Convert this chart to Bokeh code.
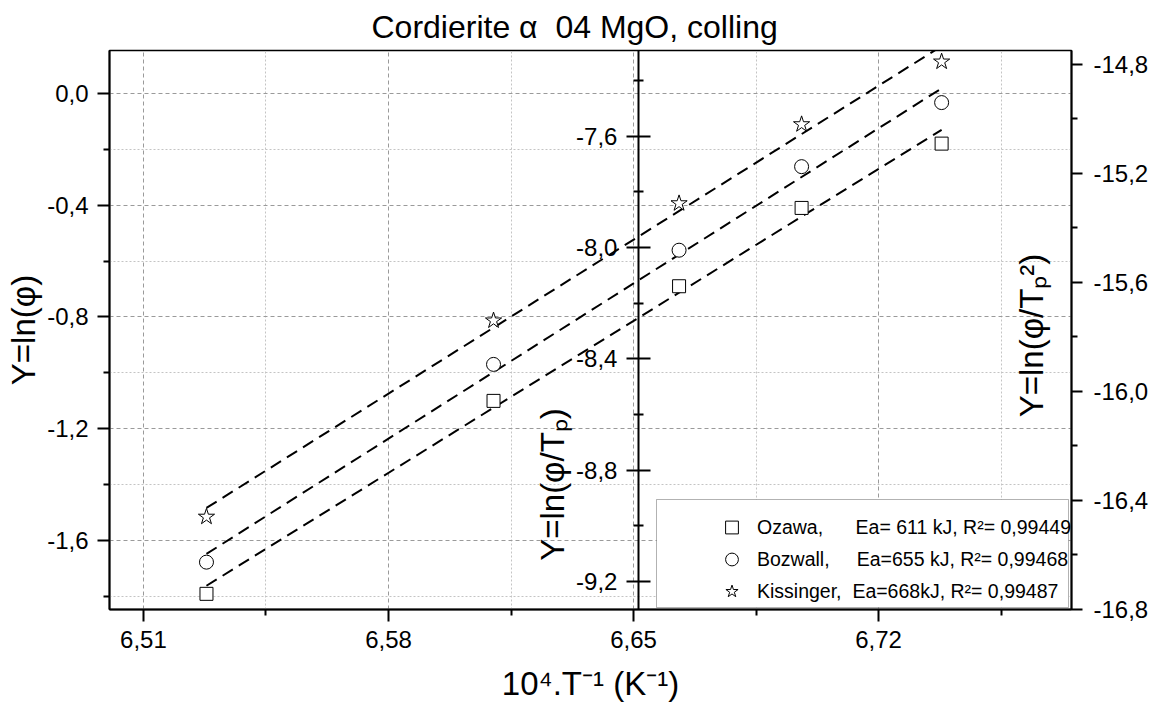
import numpy as np
from bokeh.plotting import figure
from bokeh.models import (Range1d, LinearAxis, FixedTicker, CustomJSTickFormatter,
                          Label, Legend, LegendItem, BoxAnnotation, Title)
from bokeh.embed import file_html
from bokeh.resources import INLINE

# ---------------- data ----------------
inv_T = [6.528, 6.610, 6.663, 6.698, 6.738]          # 10^4 / T  (K^-1)
ozawa = [-1.79, -1.10, -0.69, -0.41, -0.18]           # ln(phi)
bozwall = [-9.13, -8.42, -8.01, -7.71, -7.48]         # ln(phi/Tp)
kissinger = [-16.46, -15.74, -15.31, -15.02, -14.79]  # ln(phi/Tp^2)

x_major = [6.51, 6.58, 6.65, 6.72]
x_minor = [6.545, 6.615, 6.685, 6.755]
left_major = [-1.6, -1.2, -0.8, -0.4, 0.0]
left_minor = [-1.8, -1.4, -1.0, -0.6, -0.2]
mid_major = [-9.2, -8.8, -8.4, -8.0, -7.6]
mid_minor = [-9.0, -8.6, -8.2, -7.8, -7.4]
right_major = [-16.8, -16.4, -16.0, -15.6, -15.2, -14.8]
right_minor = [-16.6, -16.2, -15.8, -15.4, -15.0]

NB = "\u00a0"
legend_labels = [
    "Ozawa," + NB * 6 + "Ea= 611 kJ, R²= 0,99449",
    "Bozwall," + NB * 5 + "Ea=655 kJ, R²= 0,99468",
    "Kissinger," + NB * 2 + "Ea=668kJ, R²= 0,99487",
]
title_text = "Cordierite α" + NB + " 04 MgO, colling"
x_title = "10⁴.T⁻¹ (K⁻¹)"
left_title = "Y=ln(φ)"
mid_title = "Y=ln(φ/Tₚ)"
right_title = "Y=ln(φ/Tₚ²)"

FONT = "Liberation Sans"

p = figure(width=1157, height=709,
           x_range=Range1d(6.5003, 6.7751), y_range=Range1d(-1.846, 0.153),
           output_backend="svg", toolbar_location=None,
           min_border_left=109, min_border_right=86, min_border_top=48, min_border_bottom=100)
p.extra_y_ranges = {"mid": Range1d(-9.300, -7.293), "right": Range1d(-16.80, -14.749)}
p.background_fill_color = "white"
p.border_fill_color = "white"
p.outline_line_color = "black"
p.outline_line_width = 1.5

p.title = Title(text=title_text, align="left", offset=262, standoff=12,
                text_font=FONT, text_font_size="32px", text_font_style="normal",
                text_color="black")


def style_axis(ax, fmt_digits):
    ax.formatter = CustomJSTickFormatter(
        code="return tick.toFixed(%d).replace('.', ',');" % fmt_digits)
    ax.axis_line_width = 2
    ax.axis_line_color = "black"
    ax.major_tick_line_width = 2
    ax.minor_tick_line_width = 2
    ax.major_tick_line_color = "black"
    ax.minor_tick_line_color = "black"
    ax.major_tick_out = 12
    ax.major_tick_in = 0
    ax.minor_tick_out = 6
    ax.minor_tick_in = 0
    ax.major_label_text_font = FONT
    ax.major_label_text_font_size = "24px"
    ax.major_label_text_color = "black"
    ax.major_label_standoff = 9
    ax.axis_label_text_font = FONT
    ax.axis_label_text_font_style = "normal"
    ax.axis_label_text_font_size = "33px"
    ax.axis_label_text_color = "black"


# bottom axis
xt = FixedTicker(ticks=x_major, minor_ticks=x_minor)
xa = p.xaxis[0]
xa.ticker = xt
style_axis(xa, 2)
xa.axis_label = x_title
xa.axis_label_standoff = 14

# left axis
lt = FixedTicker(ticks=left_major, minor_ticks=left_minor)
ya = p.yaxis[0]
ya.ticker = lt
style_axis(ya, 1)
ya.axis_label = left_title
ya.axis_label_standoff = 2

# grids
p.xgrid.ticker = xt
p.ygrid.ticker = lt
for g in (p.xgrid[0], p.ygrid[0]):
    g.grid_line_color = "#9a9a9a"
    g.grid_line_dash = "4 3"
    g.grid_line_width = 1
    g.minor_grid_line_color = "#c4c4c4"
    g.minor_grid_line_dash = "2 2"
    g.minor_grid_line_width = 1

# middle axis (inside the frame)
ma = LinearAxis(y_range_name="mid", fixed_location=6.6514,
                ticker=FixedTicker(ticks=mid_major, minor_ticks=mid_minor))
style_axis(ma, 1)
ma.major_tick_in = 12
ma.minor_tick_in = 5
ma.minor_tick_out = 5
ma.major_label_standoff = 9
p.add_layout(ma, "left")

# right axis
ra = LinearAxis(y_range_name="right",
                ticker=FixedTicker(ticks=right_major, minor_ticks=right_minor))
style_axis(ra, 1)
ra.major_tick_out = 11
ra.major_label_standoff = 11
p.add_layout(ra, "right")

# fit lines (least squares from the data)
series = [(ozawa, "default"), (bozwall, "mid"), (kissinger, "right")]
xs = np.array(inv_T)
for ys, rng in series:
    k, b = np.polyfit(xs, np.array(ys), 1)
    xl = [xs[0], xs[-1]]
    yl = [k * xs[0] + b, k * xs[-1] + b]
    p.line(xl, yl, y_range_name=rng, line_color="black", line_width=2, line_dash="12 7")

r1 = p.scatter(inv_T, ozawa, marker="square", size=13, fill_color="white",
               line_color="black", line_width=1)
r2 = p.scatter(inv_T, bozwall, y_range_name="mid", marker="circle", size=14,
               fill_color="white", line_color="black", line_width=1)
r3 = p.scatter(inv_T, kissinger, y_range_name="right", marker="star", size=17,
               fill_color="white", line_color="black", line_width=1)

# legend box + legend
box = BoxAnnotation(left=547, right=959, bottom=2, top=110,
                    left_units="screen", right_units="screen",
                    bottom_units="screen", top_units="screen",
                    fill_color="white", fill_alpha=1.0,
                    line_color="black", line_width=1)
p.add_layout(box)

leg = Legend(items=[LegendItem(label=legend_labels[0], renderers=[r1]),
                    LegendItem(label=legend_labels[1], renderers=[r2]),
                    LegendItem(label=legend_labels[2], renderers=[r3])],
             location=(606, 2), padding=0, margin=0, spacing=0,
             glyph_width=33, glyph_height=32, label_height=32, label_standoff=9,
             border_line_alpha=0, background_fill_alpha=0,
             label_text_font=FONT, label_text_font_size="19.5px",
             label_text_color="black")
p.add_layout(leg)

# inner axis titles
p.add_layout(Label(x=443, y=125, x_units="screen", y_units="screen", text=mid_title,
                   angle=np.pi / 2, text_align="center", text_baseline="middle",
                   text_font=FONT, text_font_size="33px", text_color="black"))
p.add_layout(Label(x=922, y=274, x_units="screen", y_units="screen", text=right_title,
                   angle=np.pi / 2, text_align="center", text_baseline="middle",
                   text_font=FONT, text_font_size="33px", text_color="black"))

open("out.html", "w").write(file_html(p, INLINE))
